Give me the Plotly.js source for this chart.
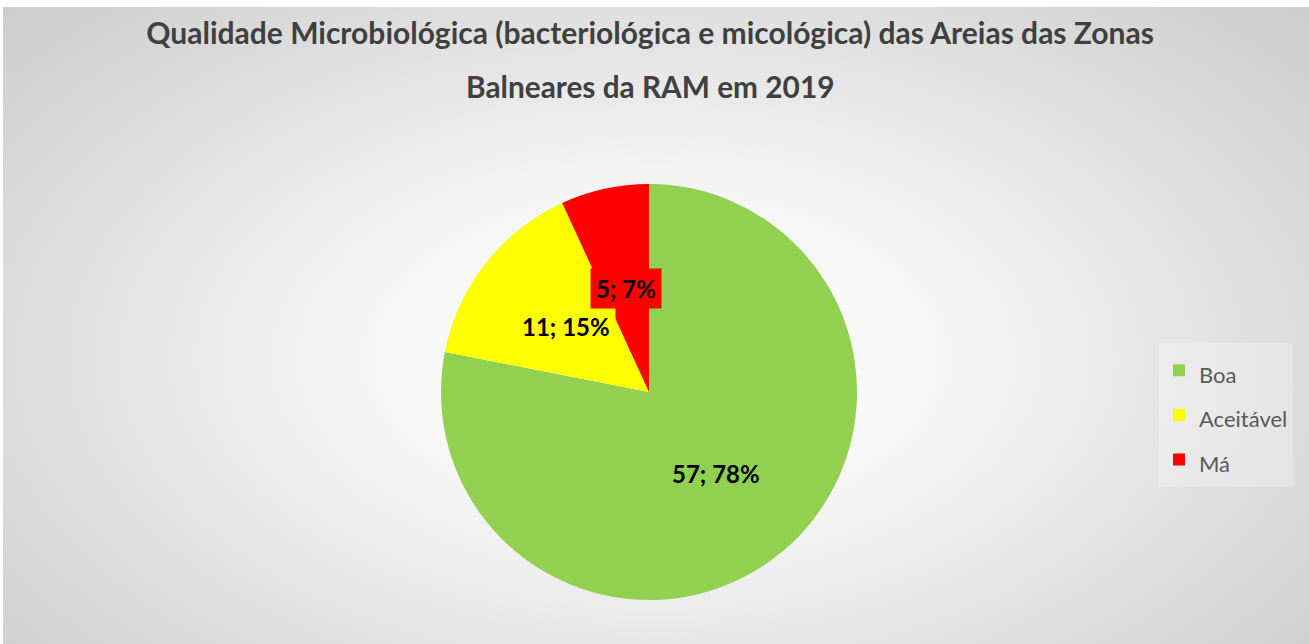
<!DOCTYPE html>
<html>
<head>
<meta charset="utf-8">
<script src="https://cdn.plot.ly/plotly-3.0.1.min.js"></script>
<style>
  html, body { margin: 0; padding: 0; background: #ffffff; }
  #wrap { position: absolute; left: 0; top: 0; width: 1309px; height: 644px; background: #ffffff; }
  #chart { position: absolute; left: 3px; top: 7px; width: 1306px; height: 637px;
    background: radial-gradient(ellipse 72% 85% at 50% 55%, #ffffff 0%, #f7f7f7 28%, #e1e1e1 62%, #c9c9c9 100%); }
</style>
</head>
<body>
<div id="wrap"><div id="chart"></div></div>
<script>
const categories = ['Boa', 'Aceitável', 'Má'];
const counts = [57, 11, 5];
const colors = ['#92d050', '#ffff00', '#ff0000'];
const titleLine1 = 'Qualidade Microbiológica (bacteriológica e micológica) das Areias das Zonas';
const titleLine2 = 'Balneares da RAM em 2019';

const W = 1306, H = 637;
// pie geometry (pixels within chart div)
const cxPx = 646, cyPx = 385, rPx = 208;
const domX = [(cxPx - rPx) / W, (cxPx + rPx) / W];
const domY = [(H - cyPx - rPx) / H, (H - cyPx + rPx) / H];

const total = counts.reduce((a, b) => a + b, 0);
const annotations = [];
let cum = 0;
counts.forEach((v, i) => {
  const mid = (cum + v / 2) / total * 2 * Math.PI; // clockwise from top
  cum += v;
  const rr = 0.51 * rPx;
  const px = cxPx + rr * Math.sin(mid);
  const py = cyPx - rr * Math.cos(mid);
  annotations.push({
    xref: 'paper', yref: 'paper', x: px / W, y: 1 - py / H,
    xanchor: 'center', yanchor: 'middle', showarrow: false,
    text: '<b>' + v + '; ' + Math.round(v / total * 100) + '%</b>',
    font: { family: 'Lato, "Open Sans", sans-serif', size: 24, color: '#000000' },
    bgcolor: colors[i], borderpad: 5
  });
});
annotations.push({
  xref: 'paper', yref: 'paper', x: 0.4955, y: 1 - 80 / H, xanchor: 'center', yanchor: 'middle',
  showarrow: false, text: '<b>' + titleLine2 + '</b>',
  font: { family: 'Lato, "Open Sans", sans-serif', size: 29.8, color: '#404040' }
});

const data = [{
  type: 'pie',
  labels: categories.map(c => '<span style="font-size:22px">' + c + '</span>'),
  values: counts,
  marker: { colors: colors, line: { width: 0 } },
  sort: false,
  direction: 'clockwise',
  rotation: 0,
  textinfo: 'none',
  hoverinfo: 'label+value+percent',
  domain: { x: domX, y: domY }
}];

const layout = {
  width: W, height: H,
  paper_bgcolor: 'rgba(0,0,0,0)',
  plot_bgcolor: 'rgba(0,0,0,0)',
  margin: { l: 0, r: 0, t: 0, b: 0 },
  title: {
    text: '<b>' + titleLine1 + '</b>',
    x: 0.4955, xanchor: 'center', xref: 'paper',
    y: 1 - 26 / H, yanchor: 'middle', yref: 'container',
    font: { family: 'Lato, "Open Sans", sans-serif', size: 30, color: '#404040' }
  },
  showlegend: true,
  legend: {
    x: 1156 / W, y: 1 - 336 / H, xanchor: 'left', yanchor: 'top',
    bgcolor: 'rgba(255,255,255,0.25)',
    itemwidth: 30,
    font: { family: 'Lato, "Open Sans", sans-serif', size: 32, color: '#595959' },
    itemclick: false
  },
  annotations: annotations
};

Plotly.newPlot('chart', data, layout, { displayModeBar: false, staticPlot: true });
</script>
</body>
</html>
